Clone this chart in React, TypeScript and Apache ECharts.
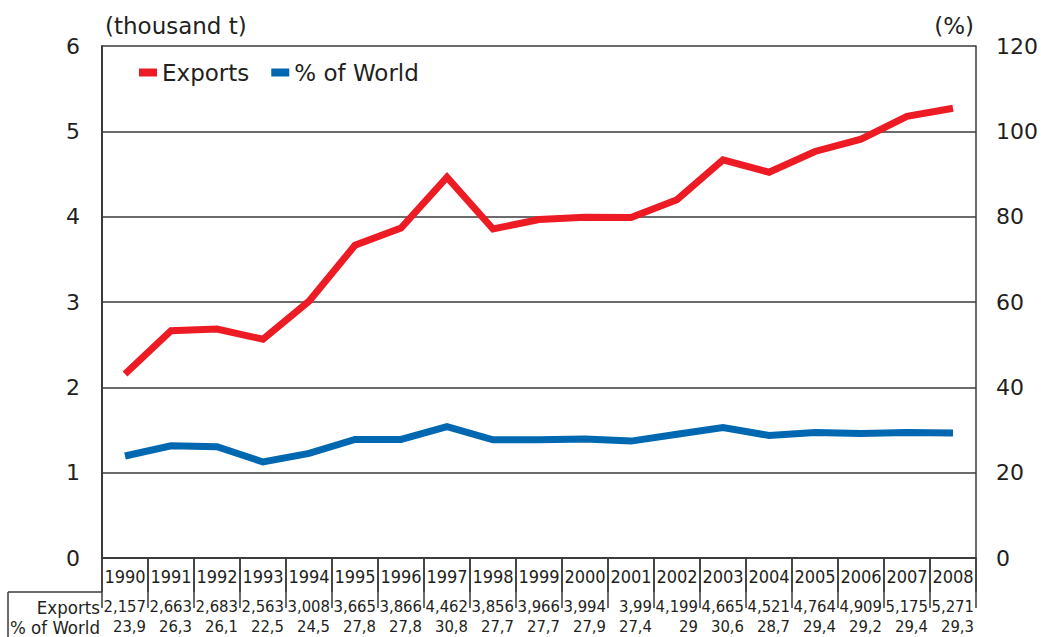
import React, { useEffect, useRef } from "react";
import * as echarts from "echarts";

const years = ["1990","1991","1992","1993","1994","1995","1996","1997","1998","1999","2000","2001","2002","2003","2004","2005","2006","2007","2008"];
const exportsK = [2.157,2.663,2.683,2.563,3.008,3.665,3.866,4.462,3.856,3.966,3.994,3.99,4.199,4.665,4.521,4.764,4.909,5.175,5.271];
const shareWorld = [23.9,26.3,26.1,22.5,24.5,27.8,27.8,30.8,27.7,27.7,27.9,27.4,29,30.6,28.7,29.4,29.2,29.4,29.3];
const leftTicks = [0, 6, 1];
const rightTicks = [0, 120, 20];

const FONT = "'DejaVu Sans', sans-serif";
const CFONT = "'DejaVu Sans Condensed', 'DejaVu Sans', sans-serif";
const TXT = "#231f20";
const LINE = "#3a3a3a";
const RED = "#ed1c24";
const BLUE = "#0067b1";

const fmt = (v: number) => String(v).replace(".", ",");

export default function App() {
  const ref = useRef<HTMLDivElement>(null);
  useEffect(() => {
    const chart = echarts.init(ref.current!, null, { renderer: "svg" });
    const cellRich = {
      c: { width: 42, align: "right", fontSize: 16.5, fontFamily: CFONT, color: TXT },
    };
    chart.setOption({
      animation: false,
      backgroundColor: "#fff",
      textStyle: { fontFamily: FONT, color: TXT },
      grid: { left: 102, right: 61, top: 46, bottom: 79, containLabel: false },
      legend: {
        left: 134,
        top: 56,
        itemWidth: 18,
        itemHeight: 8,
        itemGap: 22,
        icon: "rect",
        textStyle: { fontSize: 23, fontFamily: FONT, color: TXT },
        data: ["Exports", "% of World"],
      },
      xAxis: [
        {
          type: "category",
          data: years,
          boundaryGap: true,
          axisLine: { show: true, lineStyle: { color: LINE, width: 1.5 } },
          axisTick: { show: true, interval: 0, length: 34, lineStyle: { color: LINE, width: 1.5 } },
          axisLabel: { interval: 0, margin: 9, fontSize: 18, color: TXT, fontFamily: CFONT },
        },
        {
          type: "category",
          data: exportsK.map(fmt),
          boundaryGap: true,
          offset: 34,
          position: "bottom",
          axisLine: { show: true, lineStyle: { color: LINE, width: 1.5 } },
          axisTick: { show: true, interval: 0, length: 50, lineStyle: { color: LINE, width: 1.5 } },
          axisLabel: {
            interval: 0,
            margin: 6,
            formatter: (v: string) => `{c|${v}}`,
            rich: cellRich,
          },
        },
        {
          type: "category",
          data: shareWorld.map(fmt),
          boundaryGap: true,
          offset: 34,
          position: "bottom",
          axisLine: { show: false },
          axisTick: { show: false },
          axisLabel: {
            interval: 0,
            margin: 26,
            formatter: (v: string) => `{c|${v}}`,
            rich: cellRich,
          },
        },
      ],
      yAxis: [
        {
          type: "value",
          min: leftTicks[0],
          max: leftTicks[1],
          interval: leftTicks[2],
          name: "(thousand t)",
          nameLocation: "end",
          nameGap: 9,
          nameTextStyle: { fontSize: 23, align: "left", padding: [0, 0, 0, 3], color: TXT, fontFamily: FONT },
          axisLine: { show: true, lineStyle: { color: LINE, width: 2 } },
          axisTick: { show: false },
          axisLabel: { fontSize: 22, margin: 22, color: TXT, fontFamily: FONT },
          splitLine: { show: true, lineStyle: { color: LINE, width: 1.5 } },
        },
        {
          type: "value",
          min: rightTicks[0],
          max: rightTicks[1],
          interval: rightTicks[2],
          name: "(%)",
          nameLocation: "end",
          nameGap: 9,
          nameTextStyle: { fontSize: 23, align: "right", padding: [0, 2, 0, 0], color: TXT, fontFamily: FONT },
          axisLine: { show: true, lineStyle: { color: LINE, width: 1.5 } },
          axisTick: { show: false },
          axisLabel: { fontSize: 22, margin: 20, color: TXT, fontFamily: FONT },
          splitLine: { show: false },
        },
      ],
      graphic: [
        { type: "line", shape: { x1: 8, y1: 592, x2: 102, y2: 592 }, style: { stroke: LINE, lineWidth: 1.5 } },
        { type: "line", shape: { x1: 8, y1: 592, x2: 8, y2: 640 }, style: { stroke: LINE, lineWidth: 1.5 } },
        { type: "text", x: 100, y: 607, style: { text: "Exports", align: "right", verticalAlign: "middle", fontSize: 18.5, fontFamily: CFONT, fill: TXT } },
        { type: "text", x: 100, y: 627, style: { text: "% of World", align: "right", verticalAlign: "middle", fontSize: 18.5, fontFamily: CFONT, fill: TXT } },
      ],
      series: [
        {
          name: "Exports",
          type: "line",
          data: exportsK,
          xAxisIndex: 0,
          yAxisIndex: 0,
          symbol: "none",
          lineStyle: { color: RED, width: 7, join: "miter" },
          itemStyle: { color: RED },
        },
        {
          name: "% of World",
          type: "line",
          data: shareWorld,
          xAxisIndex: 0,
          yAxisIndex: 1,
          symbol: "none",
          lineStyle: { color: BLUE, width: 7, join: "miter" },
          itemStyle: { color: BLUE },
        },
      ],
    });
    return () => chart.dispose();
  }, []);
  return <div ref={ref} style={{ width: 1041, height: 637, position: "absolute", left: 0, top: 0 }} />;
}
